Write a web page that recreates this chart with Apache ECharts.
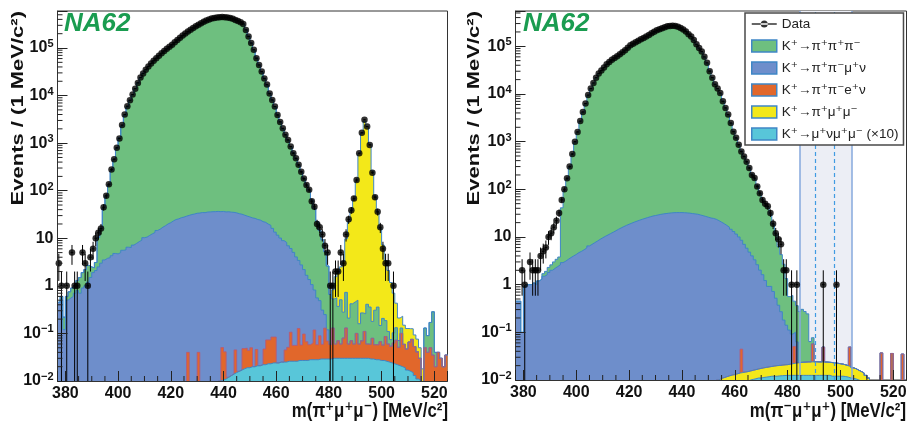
<!DOCTYPE html>
<html><head><meta charset="utf-8">
<script src="https://cdn.jsdelivr.net/npm/echarts@6/dist/echarts.min.js"></script>
<style>html,body{margin:0;padding:0;background:#fff}#c{width:908px;height:423px}</style>
</head><body><div id="c"></div>
<script>
// ---------------- axis definitions ----------------
const BIN_LOW = 377, BIN_HIGH = 525;           // histogram range (1 MeV bins)
const Y_MIN = 0.01, Y_MAX_LEFT = 6e5, Y_MAX_RIGHT = 5.5e5;
const X_MINOR = [385,390,395,405,410,415,425,430,435,445,450,455,465,470,475,485,490,495,505,510,515];
const Y_DECADES = [-2,-1,0,1,2,3,4,5];
const Y_MINOR_MULT = [2,3,4,5,6,7,8,9];
const SIGNAL_OUTER = [484.6, 504.3];
const SIGNAL_INNER = [490.5, 497.5];
const NAMES = ['K⁺→π⁺π⁺π⁻','K⁺→π⁺π⁻μ⁺ν','K⁺→π⁺π⁻e⁺ν','K⁺→π⁺μ⁺μ⁻','K⁺→μ⁺νμ⁺μ⁻ (×10)'];

// ---------------- LEFT panel: m(pi+ mu+ mu-) ----------------
const LEFT_DATA = [
 3,1,0,1,0,5,1,1,0,5,
 3,1,4,6,10,13,16,45,78,136,
 280,460,800,1250,2400,4000,6000,8000,10500,14000,
 18500,24000,29000,35000,41000,47000,54000,61000,69000,78000,
 87000,96000,106000,117000,132000,148000,165000,183000,202000,222000,
 243000,265000,288000,310000,332000,355000,378000,398000,415000,428000,
 438000,445000,448000,446000,440000,428000,410000,390000,370000,350000,
 320000,240000,175000,127000,92000,61000,44000,32000,23000,17000,
 11000,8100,5900,3900,2800,2050,1500,1170,850,615,
 480,350,250,180,132,105,60,46,20,17,
 12,7,5,1,1,2,2,5,3,12,
 25,39,69,168,615,1660,3100,2240,920,240,
 73,36,17,6,3,3,0,1,0,0,
 0,0,0,0,0,0,0,0,0,0,
 0,0,0,0,0,0,0,0];
const LEFT_K3PI = [
 0,0.1,0.1,0.1,0.2,0.3,0.3,0.5,0.8,1.0,
 1.2,1.5,1.0,0.5,1.0,8,13,40,75,130,
 260,450,780,1300,2300,3800,5800,7900,10400,14000,
 18500,24000,29500,35000,41000,47500,54000,61000,69000,77000,
 86000,96000,106000,117000,131000,147000,164000,182000,201000,221000,
 242000,264000,287000,309000,331000,354000,376000,396000,413000,427000,
 437000,444000,447000,445000,439000,427000,410000,390000,370000,348000,
 318000,245000,178000,128000,91000,62000,44000,31500,23000,16500,
 11200,8000,5800,4000,2800,2000,1500,1150,840,620,
 470,345,250,178,130,100,62,42,22,14,
 9,5,2.5,0.6,0.4,0.5,0.3,0.45,0.2,0.6,
 0.15,0.35,0.4,0.4,0.1,0.2,0.15,0.35,0.3,0.1,
 0.25,0.3,0.08,0.15,0.1,0.05,0.02,0.04,0.06,0.02,
 0.03,0,0,0,0,0,0,0,0,0.08,
 0.05,0.12,0.25,0.02,0,0,0,0];
const LEFT_PIPIMUNU = [
 0.45,0.5,0.12,0.5,0.55,0.6,0.7,0.8,0.7,0.9,
 1.0,1.2,1.5,1.9,2.1,2.5,3.0,3.5,3.8,3.9,
 4.3,4.8,4.7,5.0,5.6,5.7,6.5,6.4,7.2,7.8,
 8.5,9.1,10.3,10.6,11.5,12.4,13.2,14.6,15.6,17.1,
 18.4,20.1,21.3,23.2,24.8,25.6,27.1,27.9,29.2,30.3,
 31.6,32.4,33.6,33.9,34.8,34.6,35.6,35.9,36.2,36.4,
 36.7,36.3,36.6,35.8,36.1,35.4,35.1,34.2,32.9,32.1,
 30.6,29.2,28.1,26.8,26.2,24.8,24.1,22.4,21.6,19.8,
 18.6,16.1,13.4,11.6,10.1,8.9,8.1,6.9,6.0,5.0,
 4.0,3.3,2.7,2.1,1.6,1.3,1.0,0.7,0.5,0.4,
 0.25,0.12,0.05,0,0,0,0,0,0,0,
 0,0,0,0,0,0,0,0,0,0,
 0,0,0,0,0,0,0,0,0,0,
 0,0,0,0,0,0,0,0,0,0,
 0,0,0,0,0,0,0,0];
const LEFT_PIPIENU = [
 0,0,0,0,0,0,0,0,0,0,
 0,0,0,0,0,0,0,0,0,0,
 0,0,0,0,0,0,0,0,0,0,
 0,0,0,0,0,0,0,0,0,0,
 0,0,0,0,0,0,0,0,0,0.04,
 0,0,0,0.04,0,0,0,0,0,0,
 0,0,0.04,0.03,0,0,0,0.03,0,0,
 0.03,0.03,0.025,0.03,0,0.025,0,0,0.025,0.05,
 0.05,0.06,0.06,0,0,0,0.02,0.025,0.08,0.03,
 0.03,0.1,0.03,0.07,0.04,0.03,0.035,0.09,0.03,0.06,
 0.03,0.1,0.04,0.03,0.1,0.03,0.04,0.03,0.05,0.1,
 0.03,0.04,0.03,0.07,0.03,0.04,0.08,0.03,0.03,0.05,
 0.03,0.03,0.04,0.03,0.06,0.035,0.03,0.04,0.05,0.03,
 0.08,0.04,0.03,0.05,0.06,0.04,0.03,0.02,0,0.05,
 0.04,0.05,0.035,0.02,0.04,0.03,0.02,0.035];
const LEFT_PIMUMU = [
 0,0,0,0,0,0,0,0,0,0,
 0,0,0,0,0,0,0,0,0,0,
 0,0,0,0,0,0,0,0,0,0,
 0,0,0,0,0,0,0,0,0,0,
 0,0,0,0,0,0,0,0,0,0,
 0,0,0,0,0,0,0,0,0,0,
 0,0,0,0,0,0,0,0,0,0,
 0,0,0,0,0,0,0,0,0,0,
 0,0,0,0,0,0,0,0,0,0,
 0,0,0,0,0,0,0,0,0,0,
 0,0,0,0,0.3,1,1.5,2,3,9,
 22,37,65,160,600,1600,2900,2200,950,260,
 75,35,16,7,3.2,2,1.1,0.6,0.3,0.14,
 0.1,0.09,0.08,0.06,0.05,0.04,0.035,0.02,0.01,0,
 0,0,0,0,0,0,0,0];
const LEFT_MUNUMUMU = [
 0,0,0,0,0,0,0,0,0,0,
 0,0,0,0,0,0,0,0,0,0,
 0,0,0,0,0,0,0,0,0,0,
 0,0,0,0,0,0,0,0,0,0,
 0,0,0,0,0,0,0,0,0,0,
 0,0,0,0,0,0,0,0,0,0,
 0.009,0.01,0.0105,0.011,0.012,0.013,0.014,0.015,0.016,0.017,
 0.018,0.019,0.019,0.02,0.02,0.021,0.021,0.022,0.022,0.023,
 0.023,0.024,0.024,0.024,0.025,0.025,0.025,0.026,0.026,0.026,
 0.026,0.027,0.027,0.027,0.027,0.028,0.028,0.028,0.028,0.029,
 0.029,0.029,0.029,0.029,0.03,0.03,0.03,0.03,0.03,0.03,
 0.03,0.03,0.03,0.03,0.03,0.03,0.03,0.03,0.029,0.029,
 0.028,0.028,0.027,0.027,0.026,0.025,0.024,0.023,0.022,0.021,
 0.02,0.019,0.017,0.016,0.015,0.013,0.011,0.01,0.008,0,
 0,0,0,0,0,0,0,0];

// ---------------- RIGHT panel: m(pi- mu+ mu+) ----------------
const RIGHT_DATA = [
 0,0,2,1,0,3,2,2,2,4,
 5,6,10,12,16,22,32,60,100,170,
 300,550,1000,1600,2700,4200,6300,9500,13000,17000,
 22000,27000,31000,36000,42000,47000,52000,57000,62000,68000,
 75000,83000,93000,105000,113000,122000,131000,140000,150000,161000,
 173000,188000,203000,216000,228000,240000,252000,262000,268000,270000,
 268000,258000,243000,225000,205000,180000,160000,135000,110000,92000,
 78000,60000,45000,30000,22000,16000,13000,10500,7000,5100,
 3700,2450,1620,1200,860,620,490,380,280,200,
 172,115,83,60,50,44,32,19,12,9,
 7,2,2,0,1,0,1,0,0,0,
 0,0,0,0,0,0,1,0,0,0,
 0,1,0,0,0,0,0,0,0,0,
 0,0,0,0,0,0,0,0,0,0,
 0,0,0,0,0,0,0,0];
const RIGHT_K3PI = [
 0,0,0,0,0,0,0,0,0,0,
 0.2,0.3,0.5,0.6,0.8,1.0,1.2,38,90,160,
 290,540,960,1580,2650,4100,6200,9300,12800,16800,
 21800,26800,31000,36000,41800,47000,52000,57000,62000,68000,
 75000,83000,92500,104000,113000,122000,131000,140000,150000,161000,
 173000,187000,202000,215000,228000,240000,251000,261000,267000,269000,
 267000,258000,243000,225000,205000,181000,159000,134000,111000,91000,
 76000,59000,44000,31000,22000,16000,12800,10300,7100,5100,
 3600,2450,1650,1180,860,630,480,370,280,205,
 165,118,82,60,49,42,30,18,11,6,
 4,2.5,1.2,0.45,0.5,0.35,0.3,0.25,0.28,0.25,
 0.22,0.04,0.02,0,0,0,0,0,0,0,
 0,0,0,0,0,0,0,0,0,0,
 0,0,0,0,0,0,0,0,0,0,
 0,0,0,0,0,0,0,0];
const RIGHT_PIPIMUNU = [
 0.45,0.45,0.1,0.9,1.0,1.0,1.1,1.0,1.2,1.3,
 1.5,1.6,1.8,2.0,2.2,2.4,2.6,2.9,3.1,3.4,
 3.7,4.0,4.3,4.7,5.0,5.4,5.9,6.5,7.0,7.6,
 8.2,8.9,9.6,10.3,11,11.8,12.6,13.5,14.5,15.5,
 16.5,17.5,18.5,19.5,20.5,21.5,22.5,23.5,24.5,25.5,
 26.5,27.5,28.2,29,29.8,30.5,31,31.5,32,32.3,
 32.5,32.5,32.5,32.3,32,31.6,31,30.5,30,29,
 28,27,26,25,24.5,23.5,22,20.5,19,17.5,
 16,14.5,13,11.5,10,8.5,7,5.8,4.8,4,
 3.3,2.6,2.0,1.6,1.2,0.9,0.9,0.7,0.5,0.35,
 0.25,0.16,0.12,0.09,0.07,0.05,0.04,0,0,0,
 0,0,0,0,0,0,0,0,0,0,
 0,0,0,0,0,0,0,0,0,0,
 0,0,0,0,0,0,0,0,0,0,
 0,0,0,0,0,0,0,0];
const RIGHT_PIPIENU = [
 0,0,0,0,0,0,0,0,0,0,
 0,0,0,0,0,0,0,0,0,0,
 0,0,0,0,0,0,0,0,0,0,
 0,0,0,0,0,0,0,0,0,0,
 0,0,0,0,0,0,0,0,0,0,
 0,0,0,0,0,0,0,0,0,0,
 0,0,0,0,0,0,0,0,0,0,
 0,0,0,0,0,0,0,0,0,0,
 0,0,0,0,0,0.03,0,0,0,0,
 0,0,0,0,0,0,0,0,0,0,
 0,0,0,0,0,0.028,0,0,0,0,
 0,0,0.033,0,0,0,0.025,0,0,0,
 0,0,0,0,0,0,0.03,0,0,0,
 0,0,0,0,0,0,0,0,0.037,0,
 0,0,0.036,0,0,0,0.035,0];
const RIGHT_PIMUMU = [
 0,0,0,0,0,0,0,0,0,0,
 0,0,0,0,0,0,0,0,0,0,
 0,0,0,0,0,0,0,0,0,0,
 0,0,0,0,0,0,0,0,0,0,
 0,0,0,0,0,0,0,0,0,0,
 0,0,0,0,0,0,0,0,0,0,
 0,0,0,0,0,0,0,0,0,0,
 0,0,0,0,0,0.009,0.01,0.0108,0.0112,0.0117,
 0.0122,0.0127,0.013,0.0065,0.006,0.0058,0.0057,0.0055,0.0055,0.0057,
 0.0059,0.006,0.0065,0.0067,0.0069,0.0071,0.0072,0.0076,0.008,0.008,
 0.0082,0.0084,0.0085,0.009,0.0095,0.01,0.0105,0.0108,0.0111,0.0113,
 0.0115,0.0115,0.0115,0.0117,0.0115,0.0115,0.0115,0.0113,0.011,0.0112,
 0.0108,0.0104,0.01,0.0095,0.009,0.0085,0.008,0.0072,0.0067,0.006,
 0.0055,0.005,0.004,0.003,0.0025,0.008,0,0,0,0,
 0,0,0,0,0,0,0,0];
const RIGHT_MUNUMUMU = [
 0,0,0,0,0,0,0,0,0,0,
 0,0,0,0,0,0,0,0,0,0,
 0,0,0,0,0,0,0,0,0,0,
 0,0,0,0,0,0,0,0,0,0,
 0,0,0,0,0,0,0,0,0,0,
 0,0,0,0,0,0,0,0,0,0,
 0,0,0,0,0,0,0,0,0,0,
 0,0,0,0,0,0,0,0,0,0,
 0,0,0,0.007,0.008,0.0085,0.009,0.0095,0.01,0.0103,
 0.0106,0.011,0.011,0.0113,0.0115,0.0117,0.012,0.012,0.012,0.0122,
 0.0123,0.0124,0.0125,0.0125,0.0125,0.0125,0.0125,0.0125,0.0125,0.0125,
 0.0125,0.0125,0.0125,0.0125,0.0125,0.0125,0.0125,0.0125,0.0125,0.012,
 0.012,0.012,0.012,0.012,0.0118,0.0115,0.011,0.0108,0.0105,0.01,
 0.0095,0.009,0.0085,0.008,0.007,0,0,0,0,0,
 0,0,0,0,0,0,0,0];

// ---------------- styling ----------------
const C_GREEN = '#6ebf7f', C_BLUE = '#6e8ecb', C_ORANGE = '#e1672b', C_YELLOW = '#f3e819', C_CYAN = '#58c6d9';
const OUTLINE = '#3f86c6';
const FONT = '"Liberation Sans", Arial, "DejaVu Sans", sans-serif';
const FLOOR = 1e-5;
const NB = BIN_HIGH - BIN_LOW;

function stackLayers(layers) {           // layers bottom -> top
  let acc = new Array(NB).fill(0);
  return layers.map(l => { acc = acc.map((a, i) => a + l.v[i]); return Object.assign({}, l, {cum: acc.slice()}); });
}
function histSeries(layer, axis, z) {
  const pts = [];
  for (let i = 0; i < NB; i++) pts.push([BIN_LOW + i, layer.cum[i] > 0 ? layer.cum[i] : FLOOR]);
  pts.push([BIN_HIGH, layer.cum[NB - 1] > 0 ? layer.cum[NB - 1] : FLOOR]);
  return {type: 'line', name: layer.name, xAxisIndex: axis, yAxisIndex: axis, data: pts, step: 'end',
    symbol: 'none', showSymbol: false, clip: true, z: z, color: layer.c, silent: true,
    lineStyle: {color: layer.lc || OUTLINE, width: layer.lw || 1}, areaStyle: {color: layer.c, opacity: 1, origin: 'start'},
    emphasis: {disabled: true}};
}
function dataPoints(arr) {
  const pts = [];
  arr.forEach((v, i) => { if (v > 0) pts.push([BIN_LOW + i + 0.5, v]); });
  return pts;
}
function dataSeries(arr, axis) {
  return {type: 'scatter', name: 'Data', xAxisIndex: axis, yAxisIndex: axis, data: dataPoints(arr),
    symbol: 'circle', symbolSize: 6.5, itemStyle: {color: '#000'}, z: 9, silent: true};
}
function errSeries(arr, axis) {
  return {type: 'custom', name: 'err' + axis, xAxisIndex: axis, yAxisIndex: axis, data: dataPoints(arr), z: 8, silent: true,
    renderItem: function (params, api) {
      const x = api.value(0), v = api.value(1), e = Math.sqrt(v);
      const lo = Math.max(v - e, Y_MIN), hi = v + e;
      const a = api.coord([x, lo]), b = api.coord([x, hi]);
      const l = api.coord([x - 0.5, v]), r = api.coord([x + 0.5, v]);
      return {type: 'group', children: [
        {type: 'line', shape: {x1: a[0], y1: a[1], x2: b[0], y2: b[1]}, style: {stroke: '#000', lineWidth: 1}},
        {type: 'line', shape: {x1: l[0], y1: l[1], x2: r[0], y2: r[1]}, style: {stroke: '#000', lineWidth: 1}}]};
    }};
}
function tickSeries(axis, ymax) {
  const d = [];
  Y_DECADES.forEach(k => Y_MINOR_MULT.forEach(m => { const v = m * Math.pow(10, k); if (v < ymax) d.push([BIN_LOW, v, 0]); }));
  X_MINOR.forEach(x => d.push([x, Y_MIN, 1]));
  return {type: 'custom', name: 'ticks' + axis, xAxisIndex: axis, yAxisIndex: axis, data: d, z: 12, silent: true,
    renderItem: function (params, api) {
      const p = api.coord([api.value(0), api.value(1)]);
      const shape = api.value(2) === 0 ? {x1: p[0], y1: p[1], x2: p[0] + 5, y2: p[1]} : {x1: p[0], y1: p[1], x2: p[0], y2: p[1] - 5};
      return {type: 'line', shape: shape, style: {stroke: '#222', lineWidth: 1}};
    }};
}
function yLabel(v) {
  const l = Math.log10(v), k = Math.round(l);
  if (Math.abs(l - k) > 1e-6) return '';
  if (k === 0) return '1';
  if (k === 1) return '10';
  return '10{s|' + (k < 0 ? '−' + (-k) : k) + '}';
}
function xAxisOpt(g) {
  return {gridIndex: g, type: 'value', min: BIN_LOW, max: BIN_HIGH, splitNumber: 7, z: 10,
    axisLine: {show: true, lineStyle: {color: '#333', width: 1}},
    axisTick: {show: true, inside: true, length: 10, lineStyle: {color: '#222', width: 1}},
    minorTick: {show: false}, splitLine: {show: false},
    axisLabel: {margin: 5, color: '#111', fontSize: 16, fontWeight: 'bold', fontFamily: FONT,
      formatter: v => (v % 20 === 0 ? String(v) : '')}};
}
function yAxisOpt(g, ymax) {
  return {gridIndex: g, type: 'log', logBase: 10, min: Y_MIN, max: ymax, z: 10,
    axisLine: {show: true, lineStyle: {color: '#333', width: 1}},
    axisTick: {show: true, inside: true, length: 10, lineStyle: {color: '#222', width: 1}},
    minorTick: {show: false}, splitLine: {show: false},
    axisLabel: {margin: 4, color: '#111', fontSize: 16, fontWeight: 'bold', fontFamily: FONT, formatter: yLabel,
      rich: {s: {fontSize: 11, fontWeight: 'bold', fontFamily: FONT, color: '#111', verticalAlign: 'top', padding: [0, 0, 8, 0]}}}};
}

const leftStack = stackLayers([
  {name: NAMES[4], v: LEFT_MUNUMUMU, c: C_CYAN},
  {name: NAMES[2], v: LEFT_PIPIENU, c: C_ORANGE, lc: '#b45a7a', lw: 0.9},
  {name: NAMES[1], v: LEFT_PIPIMUNU, c: C_BLUE},
  {name: NAMES[0], v: LEFT_K3PI, c: C_GREEN},
  {name: NAMES[3], v: LEFT_PIMUMU, c: C_YELLOW}]);
const rightStack = stackLayers([
  {name: NAMES[4], v: RIGHT_MUNUMUMU, c: C_CYAN},
  {name: NAMES[3], v: RIGHT_PIMUMU, c: C_YELLOW},
  {name: NAMES[2], v: RIGHT_PIPIENU, c: C_ORANGE, lc: '#b45a7a', lw: 0.9},
  {name: NAMES[1], v: RIGHT_PIPIMUNU, c: C_BLUE},
  {name: NAMES[0], v: RIGHT_K3PI, c: C_GREEN}]);

const series = [];
leftStack.slice().reverse().forEach(l => series.push(histSeries(l, 0, 2)));
series.push(errSeries(LEFT_DATA, 0), dataSeries(LEFT_DATA, 0), tickSeries(0, Y_MAX_LEFT));

series.push({type: 'line', name: 'band', xAxisIndex: 1, yAxisIndex: 1, data: [[BIN_LOW, FLOOR]], symbol: 'none',
  lineStyle: {opacity: 0}, z: 1, silent: true,
  markArea: {silent: true, itemStyle: {color: '#eceef5'}, data: [[{xAxis: SIGNAL_OUTER[0]}, {xAxis: SIGNAL_OUTER[1]}]]}});
rightStack.slice().reverse().forEach(l => series.push(histSeries(l, 1, 2)));
series.push({type: 'line', name: 'regions', xAxisIndex: 1, yAxisIndex: 1, data: [[BIN_LOW, FLOOR]], symbol: 'none',
  lineStyle: {opacity: 0}, z: 6, silent: true,
  markLine: {silent: true, symbol: ['none', 'none'], label: {show: false},
    data: [
      {xAxis: SIGNAL_OUTER[0], lineStyle: {color: '#86a8dc', width: 1.5, type: 'solid'}},
      {xAxis: SIGNAL_OUTER[1], lineStyle: {color: '#86a8dc', width: 1.5, type: 'solid'}},
      {xAxis: SIGNAL_INNER[0], lineStyle: {color: '#3f9be2', width: 1.2, type: [4, 3]}},
      {xAxis: SIGNAL_INNER[1], lineStyle: {color: '#3f9be2', width: 1.2, type: [4, 3]}}]}});
series.push(errSeries(RIGHT_DATA, 1), dataSeries(RIGHT_DATA, 1), tickSeries(1, Y_MAX_RIGHT));

const DATA_ICON = 'path://M0,2.8H25V4.2H0Z M9,3.5A3.5,3.5,0,1,0,16,3.5A3.5,3.5,0,1,0,9,3.5Z';
const swatch = c => ({color: c, borderColor: OUTLINE, borderWidth: 1.5});

const titleFont = 'bold 21px ' + FONT;
const yTitleFont = 'bold 22px ' + FONT;
const option = {
  animation: false,
  backgroundColor: '#fff',
  grid: [
    {left: 57.5, top: 11, width: 390, height: 370, show: true, borderColor: '#333', borderWidth: 1, backgroundColor: 'transparent', containLabel: false, outerBoundsMode: 'none'},
    {left: 515.5, top: 11, width: 391, height: 369, show: true, borderColor: '#333', borderWidth: 1, backgroundColor: 'transparent', containLabel: false, outerBoundsMode: 'none'}],
  xAxis: [xAxisOpt(0), xAxisOpt(1)],
  yAxis: [yAxisOpt(0, Y_MAX_LEFT), yAxisOpt(1, Y_MAX_RIGHT)],
  legend: {show: true, orient: 'vertical', left: 745, top: 13, z: 20, selectedMode: false,
    backgroundColor: '#fff', borderColor: '#4a4a4a', borderWidth: 1.5, borderRadius: 0, padding: [4, 5, 4, 6],
    itemWidth: 25, itemHeight: 12, itemGap: 8,
    textStyle: {fontSize: 13.5, color: '#222', fontFamily: FONT},
    data: [
      {name: 'Data', icon: DATA_ICON, itemStyle: {color: '#000', borderWidth: 0}},
      {name: NAMES[0], icon: 'rect', itemStyle: swatch(C_GREEN)},
      {name: NAMES[1], icon: 'rect', itemStyle: swatch(C_BLUE)},
      {name: NAMES[2], icon: 'rect', itemStyle: swatch(C_ORANGE)},
      {name: NAMES[3], icon: 'rect', itemStyle: swatch(C_YELLOW)},
      {name: NAMES[4], icon: 'rect', itemStyle: swatch(C_CYAN)}]},
  graphic: [
    {type: 'text', left: 64, top: 11, z: 30, style: {text: 'NA62', font: 'italic bold 26px ' + FONT, fill: '#1a9c50'}},
    {type: 'text', left: 523, top: 11, z: 30, style: {text: 'NA62', font: 'italic bold 26px ' + FONT, fill: '#1a9c50'}},
    {type: 'text', x: 18.5, y: 11, rotation: Math.PI / 2, scaleY: 0.78, z: 30, style: {text: 'Events / (1 MeV/c²)', font: yTitleFont, fill: '#111', align: 'right', verticalAlign: 'middle'}},
    {type: 'text', x: 474, y: 11, rotation: Math.PI / 2, scaleY: 0.78, z: 30, style: {text: 'Events / (1 MeV/c²)', font: yTitleFont, fill: '#111', align: 'right', verticalAlign: 'middle'}},
    {type: 'text', x: 448, y: 411, scaleX: 0.8, z: 30, style: {text: 'm(π⁺μ⁺μ⁻) [MeV/c²]', font: titleFont, fill: '#111', align: 'right', verticalAlign: 'middle'}},
    {type: 'text', x: 906, y: 411, scaleX: 0.8, z: 30, style: {text: 'm(π⁻μ⁺μ⁺) [MeV/c²]', font: titleFont, fill: '#111', align: 'right', verticalAlign: 'middle'}}],
  series: series
};
const chart = echarts.init(document.getElementById('c'), null, {renderer: 'canvas', width: 908, height: 423});
chart.setOption(option);
</script>
</body></html>
